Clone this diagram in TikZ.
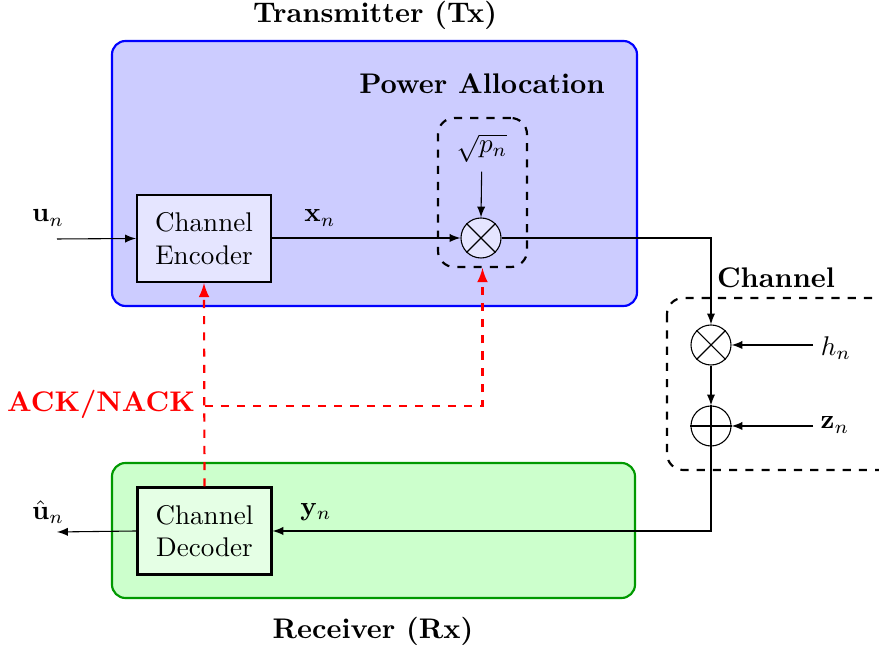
\documentclass[tikz,border=0pt]{standalone}
\usepackage{amsmath}
\usepackage{amssymb}
\usepackage{tikz}
\usetikzlibrary{shapes,arrows,positioning,fit,backgrounds}

\begin{document}
\begin{tikzpicture}[x=0.013cm, y=-0.013cm, >=latex,
    block/.style={draw, thick, rectangle, align=center, minimum width=1.74cm, minimum height=1.13cm},
    mixer/.style={draw, circle, minimum size=0.52cm, inner sep=0pt},
    title/.style={font=\bfseries\fontsize{10.5}{12}\selectfont}]
        \useasboundingbox (0,0) rectangle (879,653);

        % Transmitter
        \node[draw=blue, thick, fill=blue!20, rounded corners=5pt, minimum width=6.825cm, minimum height=3.445cm] (tx) at (374.5,173.5) {};
        \node[title] at (375,15) {Transmitter (Tx)};
        \node[title] at (482,84) {Power Allocation};
        \node[draw, thick, dashed, rounded corners=6pt, minimum width=1.157cm, minimum height=1.937cm] (pa) at (482.5,192.5) {};
        \node[block, fill=blue!10] (enc) at (204,238.5) {Channel\\Encoder};
        \node[mixer, fill=blue!10] (mult) at (481,238) {};
        \draw (mult.north west) -- (mult.south east) (mult.north east) -- (mult.south west);
        \node (sqrtp) at (482,148) {$\sqrt{p_n}$};
        \node (un) at (48,218) {$\mathbf{u}_n$};
        \node (xn) at (320,218) {$\mathbf{x}_n$};
        \coordinate (uin) at (57,239);

        % Receiver
        \node[draw=green!60!black, thick, fill=green!20, rounded corners=5pt, minimum width=6.8cm, minimum height=1.755cm] (rx) at (373.5,530.5) {};
        \node[title] at (373,631) {Receiver (Rx)};
        \node[block, fill=green!10] (dec) at (204.5,531) {Channel\\Decoder};
        \node (uhat) at (48,512) {$\hat{\mathbf{u}}_n$};
        \node (yn) at (316,512) {$\mathbf{y}_n$};
        \coordinate (uout) at (57,532);

        % Channel
        \begin{scope}
            \clip (0,0) rectangle (879,653);
            \draw[thick, dashed, rounded corners=6pt] (667,298) rectangle (900,470);
        \end{scope}
        \node[title] at (776,278) {Channel};
        \node[mixer, fill=white] (chm) at (711,345) {};
        \draw (chm.north west) -- (chm.south east) (chm.north east) -- (chm.south west);
        \node[mixer, fill=white] (add) at (711,426) {};
        \draw (add.north) -- (add.south) (add.west) -- (add.east);
        \node (hn) at (836,348) {$h_n$};
        \node (zn) at (835,425) {$\mathbf{z}_n$};
        \coordinate (hin) at (813,345);
        \coordinate (zin) at (813,426);

        % Arrows
        \draw[->] (uin) -- (enc.west);
        \draw[->] (enc.east |- mult) -- (mult.west);
        \draw[->] (sqrtp) -- (mult.north);
        \draw[->] (mult.east) -| (chm.north);
        \draw[->] (hin) -- (chm.east);
        \draw[->] (chm.south) -- (add.north);
        \draw[->] (zin) -- (add.east);
        \draw[->] (add.south) |- (dec.east);
        \draw[->] (dec.west) -- (uout);

        % Feedback
        \coordinate (ack) at (204.5,406);
        \draw[->, thick, dashed, red] (dec.north) -- (enc.south);
        \draw[->, thick, dashed, red] (ack) -| (pa.south);
        \node[title, text=red] (acklabel) at (101,404) {ACK/NACK};
    \end{tikzpicture}
\end{document}
